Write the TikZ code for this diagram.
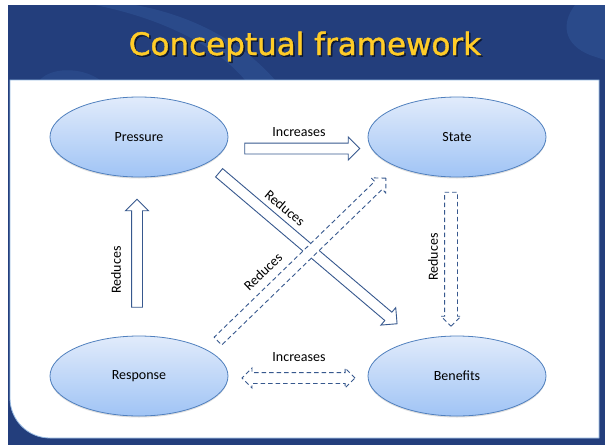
\documentclass[tikz,border=0pt]{standalone}
\usepackage{fontspec}
\setmainfont{Carlito}
\newfontfamily\titlefont[FakeBold=1.3]{DejaVu Sans}
\usetikzlibrary{shapes.geometric,shapes.arrows,calc,shadows}
\definecolor{bgblue}{RGB}{35,62,124}
\definecolor{swoosh}{RGB}{45,80,145}
\definecolor{titleyellow}{RGB}{255,204,40}
\definecolor{panelborder}{RGB}{150,185,225}
\definecolor{ellborder}{RGB}{80,128,190}
\definecolor{elltop}{RGB}{225,235,251}
\definecolor{ellbot}{RGB}{160,196,245}
\definecolor{arrowc}{RGB}{55,88,142}
\newcommand\blockarrow[5]{\path let \p1=($(#3)-(#2)$), \n1={atan2(\y1,\x1)}, \n2={veclen(\x1,\y1)} in node[#1, minimum height=\n2, rotate=\n1] at ($(#2)!0.5!(#3)$) {\rule[-#4]{0pt}{#5}};}
\begin{document}
\begin{tikzpicture}[x=1pt,y=-1pt,
  ell/.style={ellipse, draw=ellborder, line width=0.8pt, top color=elltop, bottom color=ellbot,
    minimum width=178pt, minimum height=80pt, inner sep=0pt, font=\fontsize{14}{16}\selectfont,
    drop shadow={opacity=0.25, shadow xshift=0pt, shadow yshift=-1.5pt}},
  lbl/.style={font=\fontsize{14}{16}\selectfont, inner sep=1pt},
  blk/.style={single arrow, draw=arrowc, fill=white, line width=0.9pt, inner sep=0pt,
    single arrow head extend=6pt, single arrow tip angle=90, single arrow head indent=0pt,
    anchor=center},
  dblk/.style={blk, dash pattern=on 4.5pt off 3pt, single arrow head extend=5pt},
  dvblk/.style={blk, dash pattern=on 4.5pt off 3pt, single arrow head extend=3.5pt},
  ddbl/.style={double arrow, draw=arrowc, fill=white, line width=0.9pt, inner sep=0pt,
    dash pattern=on 4.5pt off 3pt, double arrow head extend=4.5pt, double arrow tip angle=90,
    double arrow head indent=0pt, anchor=center}]
\useasboundingbox (0,0) rectangle (605,445);
% background
\fill[white] (0,0) rectangle (605,445);
\fill[bgblue] (8,5) rectangle (605,445);
\fill[swoosh, opacity=0.7] (95,5) .. controls (170,20) and (220,50) .. (245,80) -- (275,80) .. controls (240,40) and (190,15) .. (135,5) -- cycle;
\fill[swoosh, opacity=0.7] (575,5) .. controls (560,25) and (565,45) .. (590,55) -- (605,60) -- (605,5) -- cycle;
\fill[swoosh, opacity=0.6] (40,80) .. controls (50,68) and (80,66) .. (100,80) -- cycle;
% title
\node[text=black, opacity=0.55, anchor=base, font=\titlefont\fontsize{31}{36}\selectfont] at (306.5,56.5) {Conceptual framework};
\node[text=titleyellow, anchor=base, font=\titlefont\fontsize{31}{36}\selectfont] (title) at (305,55) {Conceptual framework};
% panel
\draw[panelborder, fill=white, line width=0.8pt] (10,260) [rounded corners=40pt] -- (10,438) -- (300,438) [sharp corners] -- (599,438) -- (599,80) -- (10,80) -- cycle;
% nodes
\node[ell] (P) at (139,137) {Pressure};
\node[ell] (S) at (457,137) {State};
\node[ell] (R) at (139,376) {Response};
\node[ell] (B) at (457,376) {Benefits};
% connector end points
\coordinate (ps) at ($(P)+(103,11.5)$);
\coordinate (pe) at ($(S)+(-100,11.5)$);
\coordinate (pbs) at ($(P)+(78,34)$);
\coordinate (pbe) at ($(B)+(-62,-54)$);
\coordinate (rss) at ($(R)+(77,-33)$);
\coordinate (rse) at ($(S)+(-73,43)$);
\coordinate (rps) at ($(R)+(-2,-66)$);
\coordinate (rpe) at ($(P)+(-2,65)$);
\coordinate (sbs) at ($(S)+(-6,52)$);
\coordinate (sbe) at ($(B)+(-6,-53)$);
\coordinate (rbs) at ($(R)+(103,2)$);
\coordinate (rbe) at ($(B)+(-102,2)$);
% connectors
\blockarrow{blk}{ps}{pe}{5pt}{10pt}
\blockarrow{blk}{pbs}{pbe}{5pt}{10pt}
\blockarrow{dblk}{rss}{rse}{5pt}{10pt}
\blockarrow{blk}{rps}{rpe}{5pt}{10pt}
\blockarrow{dvblk}{sbs}{sbe}{6pt}{12pt}
\blockarrow{ddbl}{rbs}{rbe}{5pt}{10pt}
% labels
\node[lbl] (l1) at (299,132) {Increases};
\node[lbl, rotate=-40] (l2) at (285,208) {Reduces};
\node[lbl, rotate=44] (l3) at (263,272) {Reduces};
\node[lbl, rotate=90] (l4) at (116,270) {Reduces};
\node[lbl, rotate=90] (l5) at (433,257) {Reduces};
\node[lbl] (l6) at (299,357) {Increases};
\end{tikzpicture}
\end{document}
